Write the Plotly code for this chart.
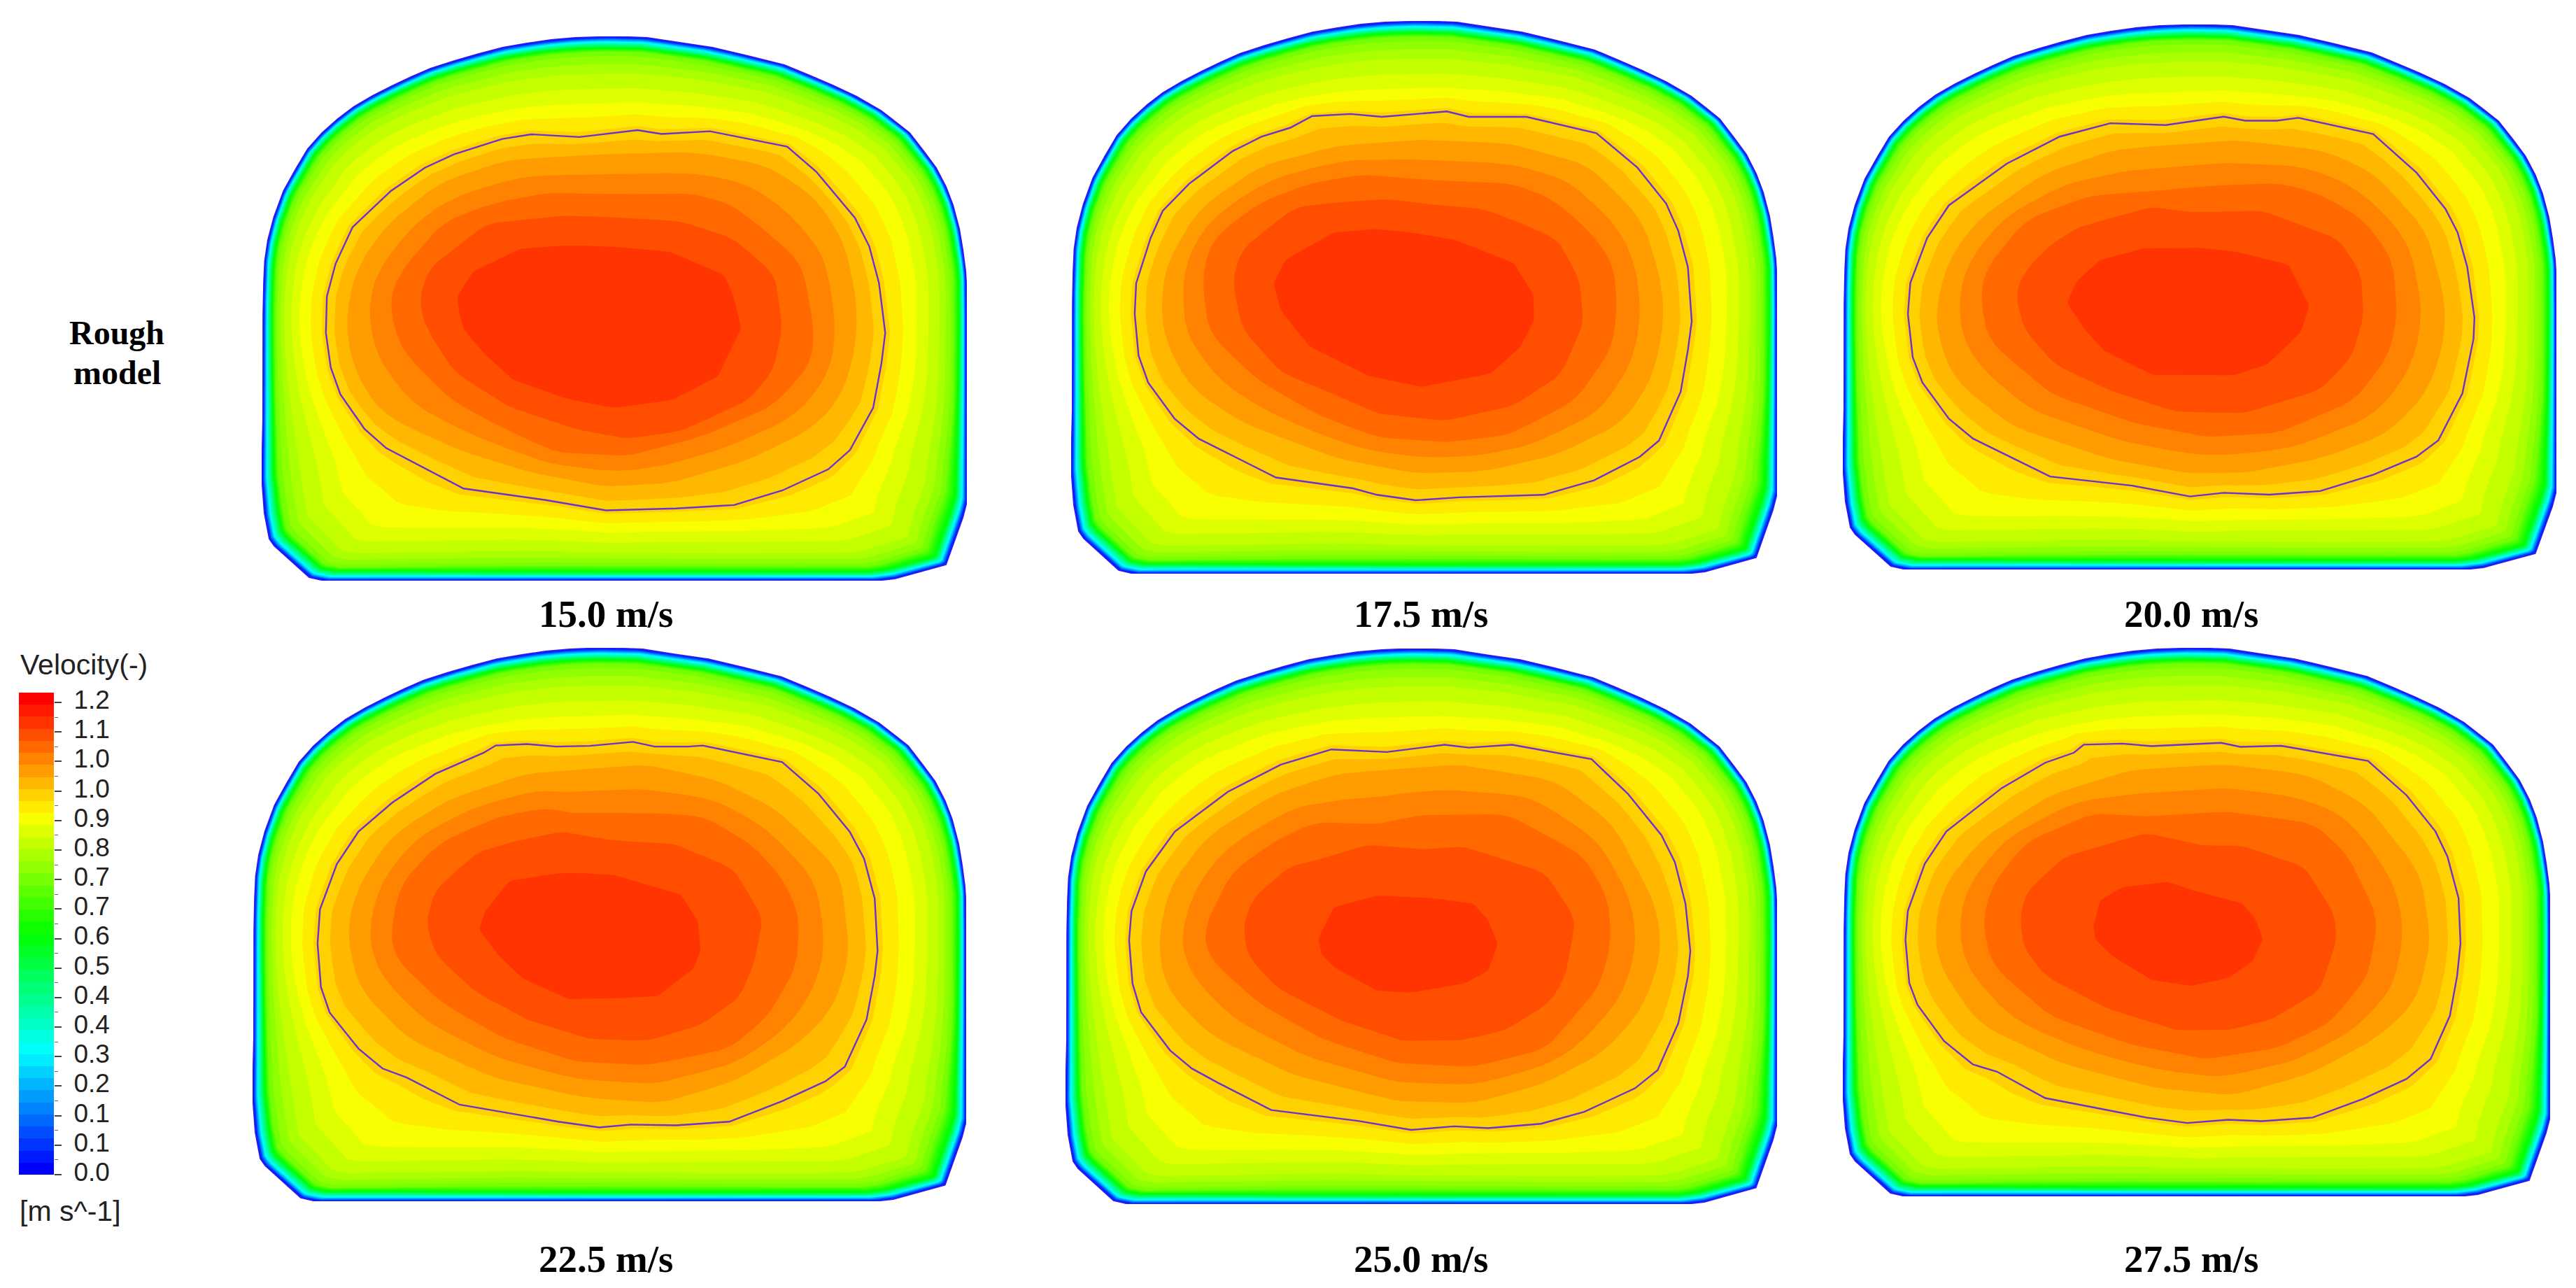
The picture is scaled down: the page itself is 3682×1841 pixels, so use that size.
import numpy as np
import plotly.graph_objects as go

# ---- text ----
SPEEDS = ["15.0 m/s", "17.5 m/s", "20.0 m/s", "22.5 m/s", "25.0 m/s", "27.5 m/s"]
TICK_VALUES = [0.0, 0.075, 0.15, 0.225, 0.3, 0.375, 0.45, 0.525, 0.6, 0.675, 0.75, 0.825, 0.9, 0.975, 1.05, 1.125, 1.2]
TICK_LABELS = ["0.0", "0.1", "0.1", "0.2", "0.3", "0.4", "0.4", "0.5", "0.6", "0.7", "0.7", "0.8", "0.9", "1.0", "1.0", "1.1", "1.2"]
BAR_MAX = 1.225
N_BANDS = 40

# ---- duct wall, shared by all sections (section units) ----
WALL_X = [2.2, 3.2, 4.6, 9, 17.7, 31.4, 48.6, 65.9, 86.5, 108.9, 131.3, 158.8, 186.4, 213.9, 241.5, 275.9, 310.4, 344.8, 379.2, 413.7, 448.1, 479, 506, 551, 596, 644, 695, 747, 781, 816, 850, 885, 907, 926, 947, 964, 978, 988, 997, 1002, 1006, 1007, 1008, 1002, 978, 905, 878, 90, 68, 18, 11, 4, 0, 2]
WALL_Y = [398, 351, 321, 291, 258, 221, 190, 161, 138, 118, 101, 85, 71, 58, 46, 35, 25, 16, 10, 5, 2, 0.7, 0.3, 2, 9, 16, 28, 41, 55, 70, 86, 106, 123, 138, 165, 188, 215, 241, 275, 305, 335, 351, 665, 688, 755, 775, 778, 778, 773, 728, 718, 681, 628, 548]

# ---- wall distance of the outer levels, by direction from the section centre ----
RAY_DEG = [0, 30, 60, 90, 120, 150, 180, 195, 210, 225, 240, 270, 300, 315, 330, 345]
DIST_088 = [64, 72, 81, 91, 84, 75, 43, 64, 122, 95, 81, 63, 75, 95, 130, 72]
DIST_082 = [34, 38, 43, 48, 44, 40, 26, 35, 62, 50, 44, 36, 40, 50, 68, 38]
DIST_075 = [19, 20, 21, 22, 21, 20, 17, 19, 30, 28, 24, 22, 24, 28, 40, 20]
DIST_060 = [10, 12, 15, 16, 14, 12, 12, 14, 21, 20, 15, 12, 14, 18, 20, 12]
DIST_030 = [4, 5, 6, 7, 6, 5, 5, 6, 8, 8, 6, 5, 6, 8, 8, 5]

# ---- crop frame of each section as read: left, right, top, bottom ----
READ_FRAME = [(52, 1512, 78, 1495), (45, 1510, 20, 1548), (50, 1530, 30, 1537),
              (30, 1512, 22, 1552), (33, 1510, 24, 1560), (50, 1518, 22, 1540)]
# ---- section box in the figure: left, right, top, bottom ----
SECTION_BOX = [(374, 1382, 52, 830), (1531, 2540, 30, 820), (2634, 3654, 35, 814),
               (361, 1381, 926, 1717), (1523, 2540, 927, 1721), (2634, 3645, 926, 1710)]

# ---- contour read from each section: velocity 0.96 (drawn line) ----
LINE_150 = [(185,850),(187,755),(205,670),(240,575),(320,480),(390,420),(450,385),(550,345),(610,333),(710,340),(830,322),(880,332),(980,325),(1140,365),(1200,430),(1280,550),(1310,625),(1330,720),(1343,850),(1335,930),(1318,1045),(1270,1155),(1225,1205),(1130,1260),(1030,1298),(910,1307),(765,1312),(640,1285),(470,1255),(310,1150),(265,1100),(215,1010),(195,940)]
LINE_175 = [(177,830),(180,745),(210,620),(235,545),(290,470),(380,380),(440,340),(500,315),(545,283),(625,277),(690,285),(825,270),(870,285),(990,285),(1135,330),(1220,425),(1280,525),(1305,600),(1325,700),(1333,850),(1325,930),(1310,1045),(1265,1180),(1225,1225),(1130,1290),(1025,1330),(850,1337),(760,1345),(680,1330),(630,1312),(470,1282),(310,1175),(260,1120),(205,1020),(185,945)]
LINE_200 = [(185,830),(190,745),(225,620),(270,530),(390,415),(500,340),(605,303),(720,308),(840,285),(885,296),(950,296),(995,288),(1150,333),(1240,440),(1300,540),(1325,605),(1345,700),(1360,840),(1358,900),(1335,1050),(1285,1180),(1240,1225),(1150,1275),(1040,1320),(935,1330),(840,1325),(770,1335),(650,1305),(480,1280),(320,1175),(270,1120),(215,1020),(195,950)]
LINE_225 = [(165,840),(170,745),(205,620),(250,530),(320,450),(410,370),(510,312),(535,292),(600,288),(660,295),(730,293),(820,282),(865,295),(935,295),(965,292),(1130,338),(1205,425),(1270,530),(1300,605),(1322,715),(1328,860),(1322,930),(1305,1050),(1260,1180),(1220,1220),(1130,1275),(1020,1332),(910,1342),(815,1340),(750,1348),(665,1332),(460,1285),(350,1210),(300,1185),(250,1130),(190,1030),(172,960)]
LINE_250 = [(165,830),(170,750),(200,640),(260,530),(370,420),(480,345),(585,303),(700,310),(820,290),(870,298),(960,290),(1125,330),(1200,425),(1270,540),(1298,615),(1320,730),(1330,860),(1325,930),(1305,1060),(1262,1190),(1215,1240),(1110,1305),(1020,1338),(910,1350),(840,1345),(750,1355),(640,1330),(460,1300),(350,1225),(295,1185),(250,1135),(190,1030),(172,950)]
LINE_275 = [(180,830),(185,750),(220,620),(265,530),(380,410),(470,340),(530,312),(550,290),(630,287),(690,294),(835,285),(875,296),(960,293),(1140,335),(1220,430),(1280,530),(1305,600),(1328,715),(1332,840),(1325,930),(1310,1040),(1270,1160),(1220,1215),(1130,1270),(1025,1322),(920,1332),(850,1328),(765,1337),(680,1322),(470,1268),(370,1195),(320,1175),(260,1110),(205,1010),(188,950)]

# ---- velocity 1.133 ----
CORE_150 = [(457,755),(490,690),(590,630),(690,622),(800,627),(900,640),(1010,700),(1030,760),(1045,840),(995,965),(900,1025),(780,1045),(680,1020),(570,970),(510,900),(470,840),(460,790)]
CORE_175 = [(465,745),(490,680),(590,605),(680,595),(740,603),(840,625),(900,655),(965,690),(1005,780),(1005,850),(975,925),(915,995),(770,1032),(660,1000),(540,920),(480,820)]
CORE_200 = [(515,800),(535,740),(585,680),(680,648),(800,648),(870,660),(975,695),(1017,808),(1000,880),(930,970),(860,1000),(690,998),(590,930),(550,870)]
CORE_225 = [(500,800),(515,745),(565,665),(680,643),(780,650),(920,705),(955,780),(960,860),(945,910),(870,985),(790,990),(685,993),(590,935),(540,870)]
CORE_250 = [(558,825),(590,740),(680,707),(800,715),(880,730),(910,775),(930,840),(910,915),(860,950),(750,975),(680,970),(590,905),(565,870)]
CORE_275 = [(570,790),(585,720),(630,685),(725,670),(780,695),(880,730),(905,770),(922,830),(900,890),(850,935),(770,958),(690,940),(610,875),(575,830)]

# ---- velocity 1.1025 ----
BAND_B_150 = [(378,760),(400,680),(520,565),(680,545),(800,550),(920,560),(1030,605),(1115,700),(1130,840),(1110,950),(1060,1025),(920,1105),(810,1125),(700,1100),(560,1040),(450,950),(390,830)]
BAND_B_175 = [(380,735),(400,650),(510,535),(610,520),(700,513),(810,530),(900,540),(980,580),(1055,625),(1100,735),(1108,860),(1060,1000),(960,1085),(820,1125),(680,1105),(570,1040),(480,990),(400,870)]
BAND_B_200 = [(408,770),(430,710),(480,640),(540,590),(690,535),(780,550),(920,545),(1080,625),(1125,720),(1130,840),(1105,950),(1040,1040),(880,1105),(740,1100),(600,1040),(490,970),(425,870)]
BAND_B_225 = [(390,780),(410,690),(500,585),(580,555),(675,530),(780,555),(910,565),(1030,635),(1090,770),(1070,900),(1040,990),(960,1065),(850,1108),(730,1103),(600,1050),(490,970),(410,870)]
BAND_B_250 = [(402,785),(425,710),(500,625),(560,608),(660,567),(780,580),(860,572),(1030,645),(1092,775),(1070,930),(1040,1000),(945,1080),(850,1108),(730,1108),(600,1050),(470,960),(410,870)]
BAND_B_275 = [(418,770),(430,700),(510,600),(680,535),(800,570),(880,570),(1010,630),(1070,760),(1075,830),(1040,970),(940,1050),(850,1080),(740,1080),(600,1020),(470,930),(425,850)]

# ---- velocity 1.072 ----
BAND_A_150 = [(315,770),(340,690),(430,560),(540,510),(650,485),(760,490),(950,488),(1030,520),(1100,590),(1170,670),(1195,840),(1190,930),(1110,1040),(960,1120),(810,1170),(660,1160),(540,1090),(440,1020),(340,890)]
BAND_A_175 = [(317,720),(340,620),(440,520),(540,470),(650,445),(780,460),(960,470),(1040,510),(1120,600),(1170,690),(1178,820),(1165,930),(1090,1070),(950,1165),(820,1185),(680,1170),(560,1110),(430,1010),(330,880)]
BAND_A_200 = [(335,770),(350,700),(430,570),(560,505),(700,490),(830,475),(960,470),(1040,500),(1130,570),(1190,680),(1200,840),(1180,950),(1110,1070),(950,1160),(800,1170),(650,1130),(480,1050),(350,900)]
BAND_A_225 = [(320,780),(340,670),(420,560),(540,490),(640,465),(690,480),(880,480),(970,490),(1070,570),(1130,660),(1165,760),(1160,900),(1100,1040),(1020,1130),(850,1175),(700,1165),(550,1100),(420,1000),(320,870)]
BAND_A_250 = [(322,790),(380,640),(470,555),(550,505),(680,510),(770,485),(950,483),(1030,540),(1110,600),(1160,720),(1165,840),(1140,960),(1030,1130),(880,1180),(720,1170),(560,1100),(430,1000),(325,870)]
BAND_A_275 = [(340,780),(360,680),(430,560),(570,480),(690,490),(850,475),(1030,510),(1100,600),(1160,770),(1140,930),(1060,1060),(950,1130),(800,1160),(650,1120),(480,1040),(360,900)]

# ---- velocity 1.01 ----
BAND_O_150 = [(230,780),(250,680),(310,570),(420,460),(560,400),(760,385),(950,380),(1100,415),(1200,500),(1260,620),(1285,780),(1280,900),(1250,1020),(1190,1100),(1060,1180),(900,1240),(760,1250),(600,1210),(450,1150),(300,1060),(245,950),(228,850)]
BAND_O_175 = [(232,830),(240,700),(310,540),(440,420),(600,365),(780,348),(960,360),(1120,420),(1230,570),(1270,740),(1275,860),(1250,1010),(1190,1130),(1050,1220),(900,1265),(760,1270),(600,1230),(400,1130),(290,1030),(240,900)]
BAND_O_200 = [(245,800),(270,680),(330,570),(470,440),(620,375),(870,350),(1050,380),(1150,440),(1260,600),(1300,800),(1295,920),(1260,1050),(1180,1160),(1040,1230),(880,1270),(760,1270),(600,1230),(400,1140),(280,1010),(245,880)]
BAND_O_225 = [(225,800),(250,680),(320,540),(440,440),(600,370),(850,345),(1000,390),(1120,470),(1250,640),(1270,870),(1235,1020),(1160,1120),(1030,1220),(880,1280),(720,1265),(530,1210),(350,1100),(250,960)]
BAND_O_250 = [(225,830),(250,680),(330,540),(470,425),(600,370),(850,345),(1050,390),(1170,510),(1260,740),(1270,870),(1230,1020),(1150,1140),(1020,1230),(880,1280),(720,1275),(500,1200),(330,1090),(240,960)]
BAND_O_275 = [(240,800),(260,680),(340,550),(480,430),(650,360),(850,345),(1020,375),(1140,460),(1250,650),(1270,840),(1240,1000),(1160,1100),(1020,1200),(860,1260),(700,1240),(500,1170),(330,1060),(250,900)]

SECTION_W, SECTION_H = 1008.0, 778.0
CENTRE = (492.0, 406.0)
FIG_W, FIG_H = 3682, 1841

ALL_LINE = [LINE_150, LINE_175, LINE_200, LINE_225, LINE_250, LINE_275]
ALL_CORE = [CORE_150, CORE_175, CORE_200, CORE_225, CORE_250, CORE_275]
ALL_B = [BAND_B_150, BAND_B_175, BAND_B_200, BAND_B_225, BAND_B_250, BAND_B_275]
ALL_A = [BAND_A_150, BAND_A_175, BAND_A_200, BAND_A_225, BAND_A_250, BAND_A_275]
ALL_O = [BAND_O_150, BAND_O_175, BAND_O_200, BAND_O_225, BAND_O_250, BAND_O_275]

THETA = np.deg2rad(np.arange(0, 360, 0.5))
UX, UY = np.cos(THETA), -np.sin(THETA)


def rainbow(t):
    s = t * 4
    if s < 1:
        return (0, round(255 * s), 255)
    if s < 2:
        return (0, 255, round(255 * (2 - s)))
    if s < 3:
        return (round(255 * (s - 2)), 255, 0)
    return (255, round(255 * (4 - s)), 0)


def to_section(points, frame):
    l, r, t, b = frame
    p = np.array(points, dtype=float)
    return (p[:, 0] - l) * SECTION_W / (r - l), (p[:, 1] - t) * SECTION_H / (b - t)


def ray_radius(x, y):
    """Distance from the centre to a closed ring along every ray."""
    x0, y0 = np.asarray(x) - CENTRE[0], np.asarray(y) - CENTRE[1]
    x1, y1 = np.roll(x0, -1), np.roll(y0, -1)
    dx, dy = x1 - x0, y1 - y0
    out = np.zeros_like(THETA)
    for k, (ux, uy) in enumerate(zip(UX, UY)):
        det = ux * (-dy) + dx * uy
        with np.errstate(divide="ignore", invalid="ignore"):
            s = (x0 * (-dy) + dx * y0) / det
            w = (ux * y0 - uy * x0) / det
        hit = s[(w >= -1e-9) & (w <= 1 + 1e-9) & (s > 0)]
        out[k] = hit.max() if hit.size else np.nan
    return out


def round_off(r, n):
    """Round a ring's corners with a short circular average."""
    return np.convolve(np.r_[r[-n:], r, r[:n]], np.ones(2 * n + 1) / (2 * n + 1), mode="valid")


wall = ray_radius(WALL_X, WALL_Y)
deg = np.rad2deg(THETA)


def from_wall(dist, n):
    return wall - round_off(np.interp(deg, RAY_DEG, dist, period=360), n)


outer = [wall, from_wall(DIST_030, 6), from_wall(DIST_060, 8), from_wall(DIST_075, 10),
         from_wall(DIST_082, 14), from_wall(DIST_088, 14)]
READ_LEVELS = np.array([0.0, 0.30, 0.60, 0.75, 0.82, 0.88, 0.96, 1.0106, 1.0719, 1.1025, 1.1332])
step = BAR_MAX / N_BANDS
band_colors = ["rgb(%d,%d,%d)" % rainbow(i / (N_BANDS - 1)) for i in range(N_BANDS)]

fig = go.Figure()
layout = dict(
    width=FIG_W, height=FIG_H, autosize=False, margin=dict(l=0, r=0, t=0, b=0, autoexpand=False),
    paper_bgcolor="white", plot_bgcolor="white", showlegend=False,
)

for p in range(6):
    frame, box = READ_FRAME[p], SECTION_BOX[p]
    ax = "" if p == 0 else str(p + 1)
    layout["xaxis" + ax] = dict(domain=[box[0] / FIG_W, box[1] / FIG_W], range=[0, SECTION_W], visible=False)
    layout["yaxis" + ax] = dict(domain=[1 - box[3] / FIG_H, 1 - box[2] / FIG_H], range=[SECTION_H, 0], visible=False)
    rings = list(outer)
    rings.append(ray_radius(*to_section(ALL_LINE[p], frame)))
    for src, n in ((ALL_O, 10), (ALL_A, 10), (ALL_B, 8), (ALL_CORE, 3)):
        rings.append(round_off(ray_radius(*to_section(src[p], frame)), n))
    rad = np.array(rings)
    for k in range(1, len(rad)):
        rad[k] = np.minimum(rad[k], rad[k - 1] - 0.5)
    for i in range(N_BANDS):
        v = i * step
        if v > READ_LEVELS[-1]:
            break
        r = np.array([np.interp(v, READ_LEVELS, rad[:, j]) for j in range(len(THETA))])
        fig.add_trace(go.Scatter(
            x=np.round(CENTRE[0] + r * UX, 1), y=np.round(CENTRE[1] + r * UY, 1),
            mode="lines", fill="toself", fillcolor=band_colors[i],
            line=dict(width=0, color=band_colors[i]), hoverinfo="skip",
            xaxis="x" + ax, yaxis="y" + ax, cliponaxis=False,
        ))
    lx, ly = to_section(ALL_LINE[p], frame)
    fig.add_trace(go.Scatter(
        x=np.r_[lx, lx[0]], y=np.r_[ly, ly[0]], mode="lines",
        line=dict(width=2.4, color="#6a32cf"), hoverinfo="skip",
        xaxis="x" + ax, yaxis="y" + ax, cliponaxis=False,
    ))
    fig.add_trace(go.Scatter(
        x=list(WALL_X) + [WALL_X[0]], y=list(WALL_Y) + [WALL_Y[0]], mode="lines",
        line=dict(width=2, color="#2a1cf5"), hoverinfo="skip",
        xaxis="x" + ax, yaxis="y" + ax, cliponaxis=False,
    ))

# colour bar
fig.add_trace(go.Heatmap(
    x=[0, 1], y=[(i + 0.5) * step for i in range(N_BANDS)],
    z=[[i / (N_BANDS - 1)] * 2 for i in range(N_BANDS)],
    zmin=0, zmax=1, showscale=False, hoverinfo="skip",
    colorscale=[[0, "rgb(0,0,255)"], [0.25, "rgb(0,255,255)"], [0.5, "rgb(0,255,0)"], [0.75, "rgb(255,255,0)"], [1, "rgb(255,0,0)"]],
    xaxis="x7", yaxis="y7",
))
layout["xaxis7"] = dict(domain=[27 / FIG_W, 77 / FIG_W], range=[0, 1], visible=False)
layout["yaxis7"] = dict(
    domain=[1 - 1679 / FIG_H, 1 - 990 / FIG_H], range=[0, BAR_MAX], side="right", anchor="x7",
    tickmode="array", tickvals=TICK_VALUES, ticktext=TICK_LABELS, ticks="outside", ticklen=10, tickwidth=1.5,
    tickcolor="#444", ticklabelstandoff=10, ticklabelshift=-4,
    tickfont=dict(family="Liberation Sans", size=37, color="#222"), showgrid=False, zeroline=False, showline=False,
    minor=dict(tickvals=[v + 0.0375 for v in TICK_VALUES[:-1]], ticks="outside", ticklen=5, tickwidth=1, tickcolor="#666", showgrid=False),
)

ann = []
CAPTION_XY = [(866, 878), (2031, 878), (3132, 878), (866, 1799), (2031, 1799), (3132, 1799)]
for label, (cx, cy) in zip(SPEEDS, CAPTION_XY):
    ann.append(dict(text="<b>%s</b>" % label, x=cx / FIG_W, y=1 - cy / FIG_H, xref="paper", yref="paper",
                    showarrow=False, xanchor="center", yanchor="middle",
                    font=dict(family="Liberation Serif", size=55, color="black")))
for label, cy in (("Rough", 475), ("model", 532)):
    ann.append(dict(text="<b>%s</b>" % label, x=167 / FIG_W, y=1 - cy / FIG_H, xref="paper", yref="paper",
                    showarrow=False, xanchor="center", yanchor="middle",
                    font=dict(family="Liberation Serif", size=48, color="black")))
for label, lx_, cy in (("Velocity(-)", 27, 950), ("[m s^-1]", 26, 1731)):
    ann.append(dict(text=label, x=lx_ / FIG_W, y=1 - cy / FIG_H, xref="paper", yref="paper",
                    showarrow=False, xanchor="left", yanchor="middle",
                    font=dict(family="Liberation Sans", size=41, color="#222")))
layout["annotations"] = ann

fig.update_layout(**layout)
fig.write_html("out.html", config={"displayModeBar": False},
               post_script="document.body.style.margin='0';document.body.style.overflow='hidden';")
